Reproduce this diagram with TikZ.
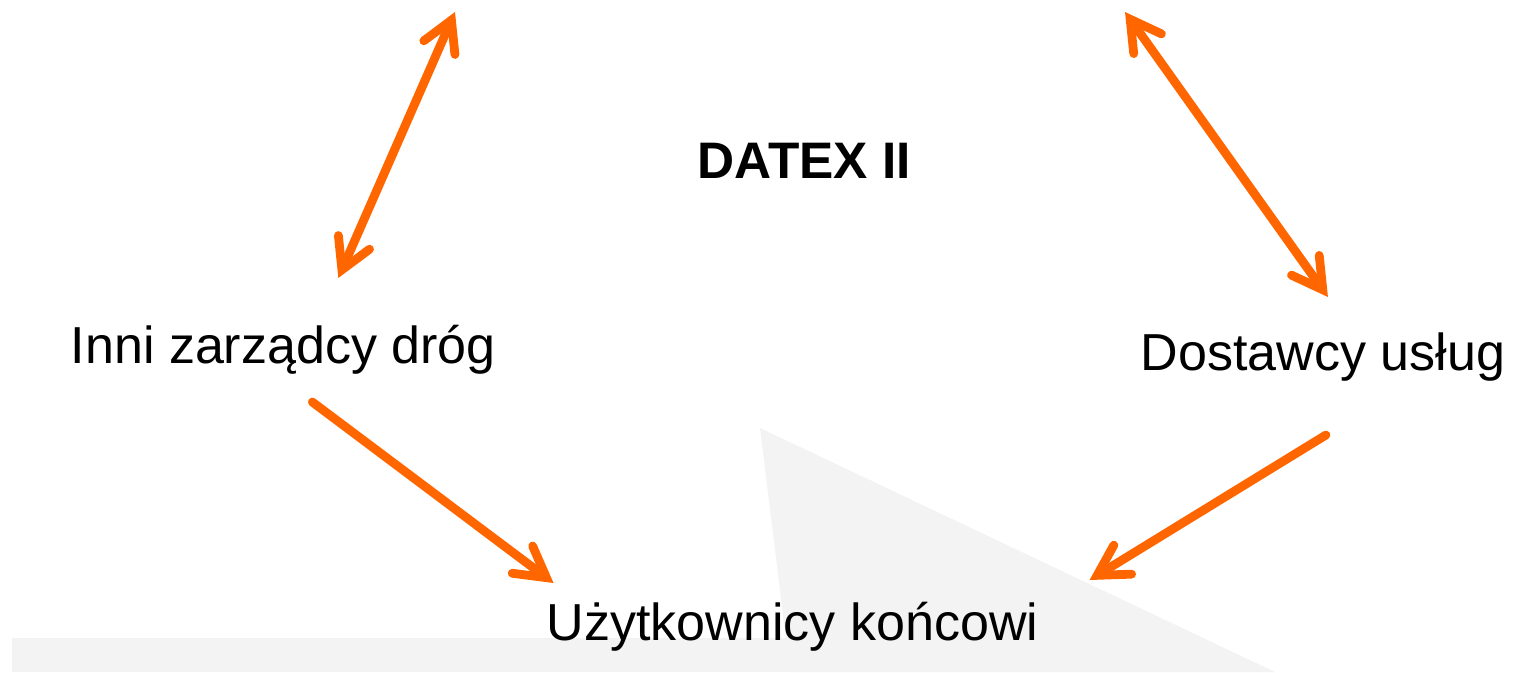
\documentclass[tikz,border=0pt]{standalone}
\usepackage{fontspec}
\setmainfont{Liberation Sans}
\usetikzlibrary{arrows.meta,calc}
\definecolor{orng}{RGB}{255,102,0}
\definecolor{paleg}{RGB}{243,243,243}
\tikzset{
  barb/.tip={Straight Barb[length=0.3cm,width=0.34cm,line cap=round]},
  link/.style={draw=orng,line width=2.5pt,line cap=round,-barb},
  duplex/.style={link,barb-barb},
  txt/.style={inner sep=0pt,anchor=base west,font=\fontsize{14.8}{18}\selectfont}
}
\begin{document}
\begin{tikzpicture}[x=0.01cm,y=-0.01cm]
\useasboundingbox (0,0) rectangle (1521,672);
% light grey backdrop
\fill[paleg] (760,428) -- (1275,672) -- (790,672) -- cycle;
\fill[paleg] (12,638) rectangle (1205,672);
% labels
\node[txt,font=\bfseries\fontsize{14.6}{17}\selectfont] (datex) at (697,178) {DATEX II};
\node[txt] (inni) at (70,363) {Inni zarządcy dróg};
\node[txt] (dost) at (1140,370) {Dostawcy usług};
\node[txt] (uzyt) at (546,640) {Użytkownicy końcowi};
% free ends above the picture
\coordinate (upL) at (455,12);
\coordinate (upR) at (1125,12);
% arrows
\draw[duplex] ($(inni.base)+(55,-85)$) -- (upL);
\draw[duplex] ($(dost.base)+(5,-73)$) -- (upR);
\draw[link] ($(inni.base)+(29,39)$) -- ($(uzyt.base)+(-239,-57)$);
\draw[link] ($(dost.base)+(3,65)$) -- ($(uzyt.base)+(297,-60)$);
\end{tikzpicture}
\end{document}
